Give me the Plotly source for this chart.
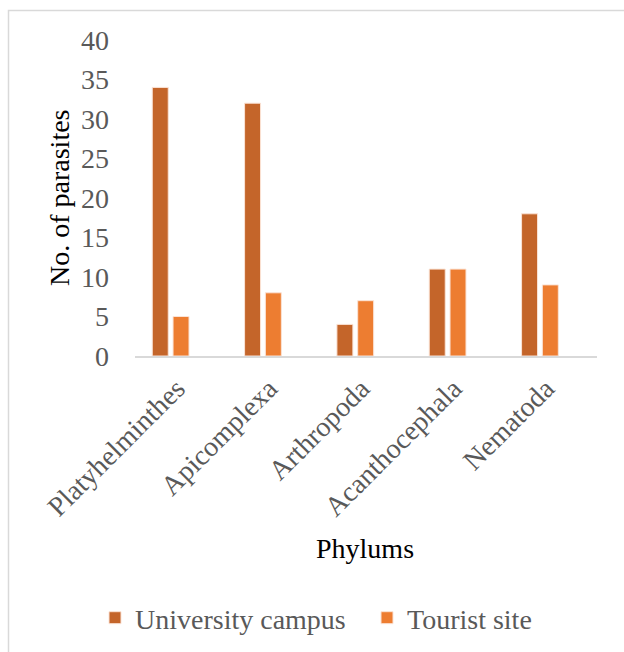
import plotly.graph_objects as go

categories = ["Platyhelminthes", "Apicomplexa", "Arthropoda", "Acanthocephala", "Nematoda"]
university_campus = [34, 32, 4, 11, 18]
tourist_site = [5, 8, 7, 11, 9]
y_ticks = [0, 5, 10, 15, 20, 25, 30, 35, 40]

FONT = "Liberation Serif"
GRAY = "#595959"

fig = go.Figure()
fig.add_trace(go.Bar(
    x=categories, y=university_campus, name="University campus",
    marker=dict(color="#C4652A", line=dict(color="#FBE3D6", width=1)),
    width=0.173, offset=-0.2,
))
fig.add_trace(go.Bar(
    x=categories, y=tourist_site, name="Tourist site",
    marker=dict(color="#ED7D31", line=dict(color="#FBE3D6", width=1)),
    width=0.173, offset=0.025,
))

L, R, T, B = 135, 27, 40, 296
W, H = 624, 652
pw, ph = W - L - R, H - T - B

def px(x):
    return (x - L) / pw

def py(y):
    return (H - B - y) / ph

fig.update_layout(
    template="none",
    width=W, height=H,
    margin=dict(l=L, r=R, t=T, b=B, pad=0, autoexpand=False),
    paper_bgcolor="white", plot_bgcolor="white",
    font=dict(family=FONT, size=28, color=GRAY),
    barmode="group",
    showlegend=True,
    legend=dict(
        orientation="h", x=px(95), y=py(618), xanchor="left", yanchor="middle",
        font=dict(family=FONT, size=28, color=GRAY),
        entrywidth=227, entrywidthmode="pixels", traceorder="normal",
        bgcolor="rgba(0,0,0,0)", borderwidth=0,
    ),
    xaxis=dict(
        type="category", range=[-0.387, 4.617], automargin=False,
        showline=True, linecolor="#D9D9D9", linewidth=2,
        showgrid=False, ticks="", tickangle=-45,
        ticklabelshift=6, ticklabelstandoff=3,
        tickfont=dict(family=FONT, size=28, color=GRAY),
        fixedrange=True,
    ),
    yaxis=dict(
        range=[0, 40], tickvals=y_ticks, showgrid=False, zeroline=False,
        showline=False, ticks="", ticklabelstandoff=25, automargin=False,
        tickfont=dict(family=FONT, size=28, color=GRAY),
        fixedrange=True,
    ),
    shapes=[dict(
        type="rect", xref="paper", yref="paper",
        x0=px(8.5), x1=px(640), y0=py(670), y1=py(10.5),
        line=dict(color="#D9D9D9", width=1.5), fillcolor="rgba(0,0,0,0)", layer="below",
    )],
    annotations=[
        dict(text="Phylums", xref="paper", yref="paper", x=px(365), y=py(548),
             showarrow=False, xanchor="center", yanchor="middle",
             font=dict(family=FONT, size=28, color="black")),
        dict(text="No. of parasites", xref="paper", yref="paper", x=px(59), y=py(198),
             showarrow=False, xanchor="center", yanchor="middle", textangle=-90,
             font=dict(family=FONT, size=28, color="black")),
    ],
)

fig.write_html("out.html", config={"displayModeBar": False},
               post_script="document.body.style.margin='0';document.body.style.overflow='hidden';")
